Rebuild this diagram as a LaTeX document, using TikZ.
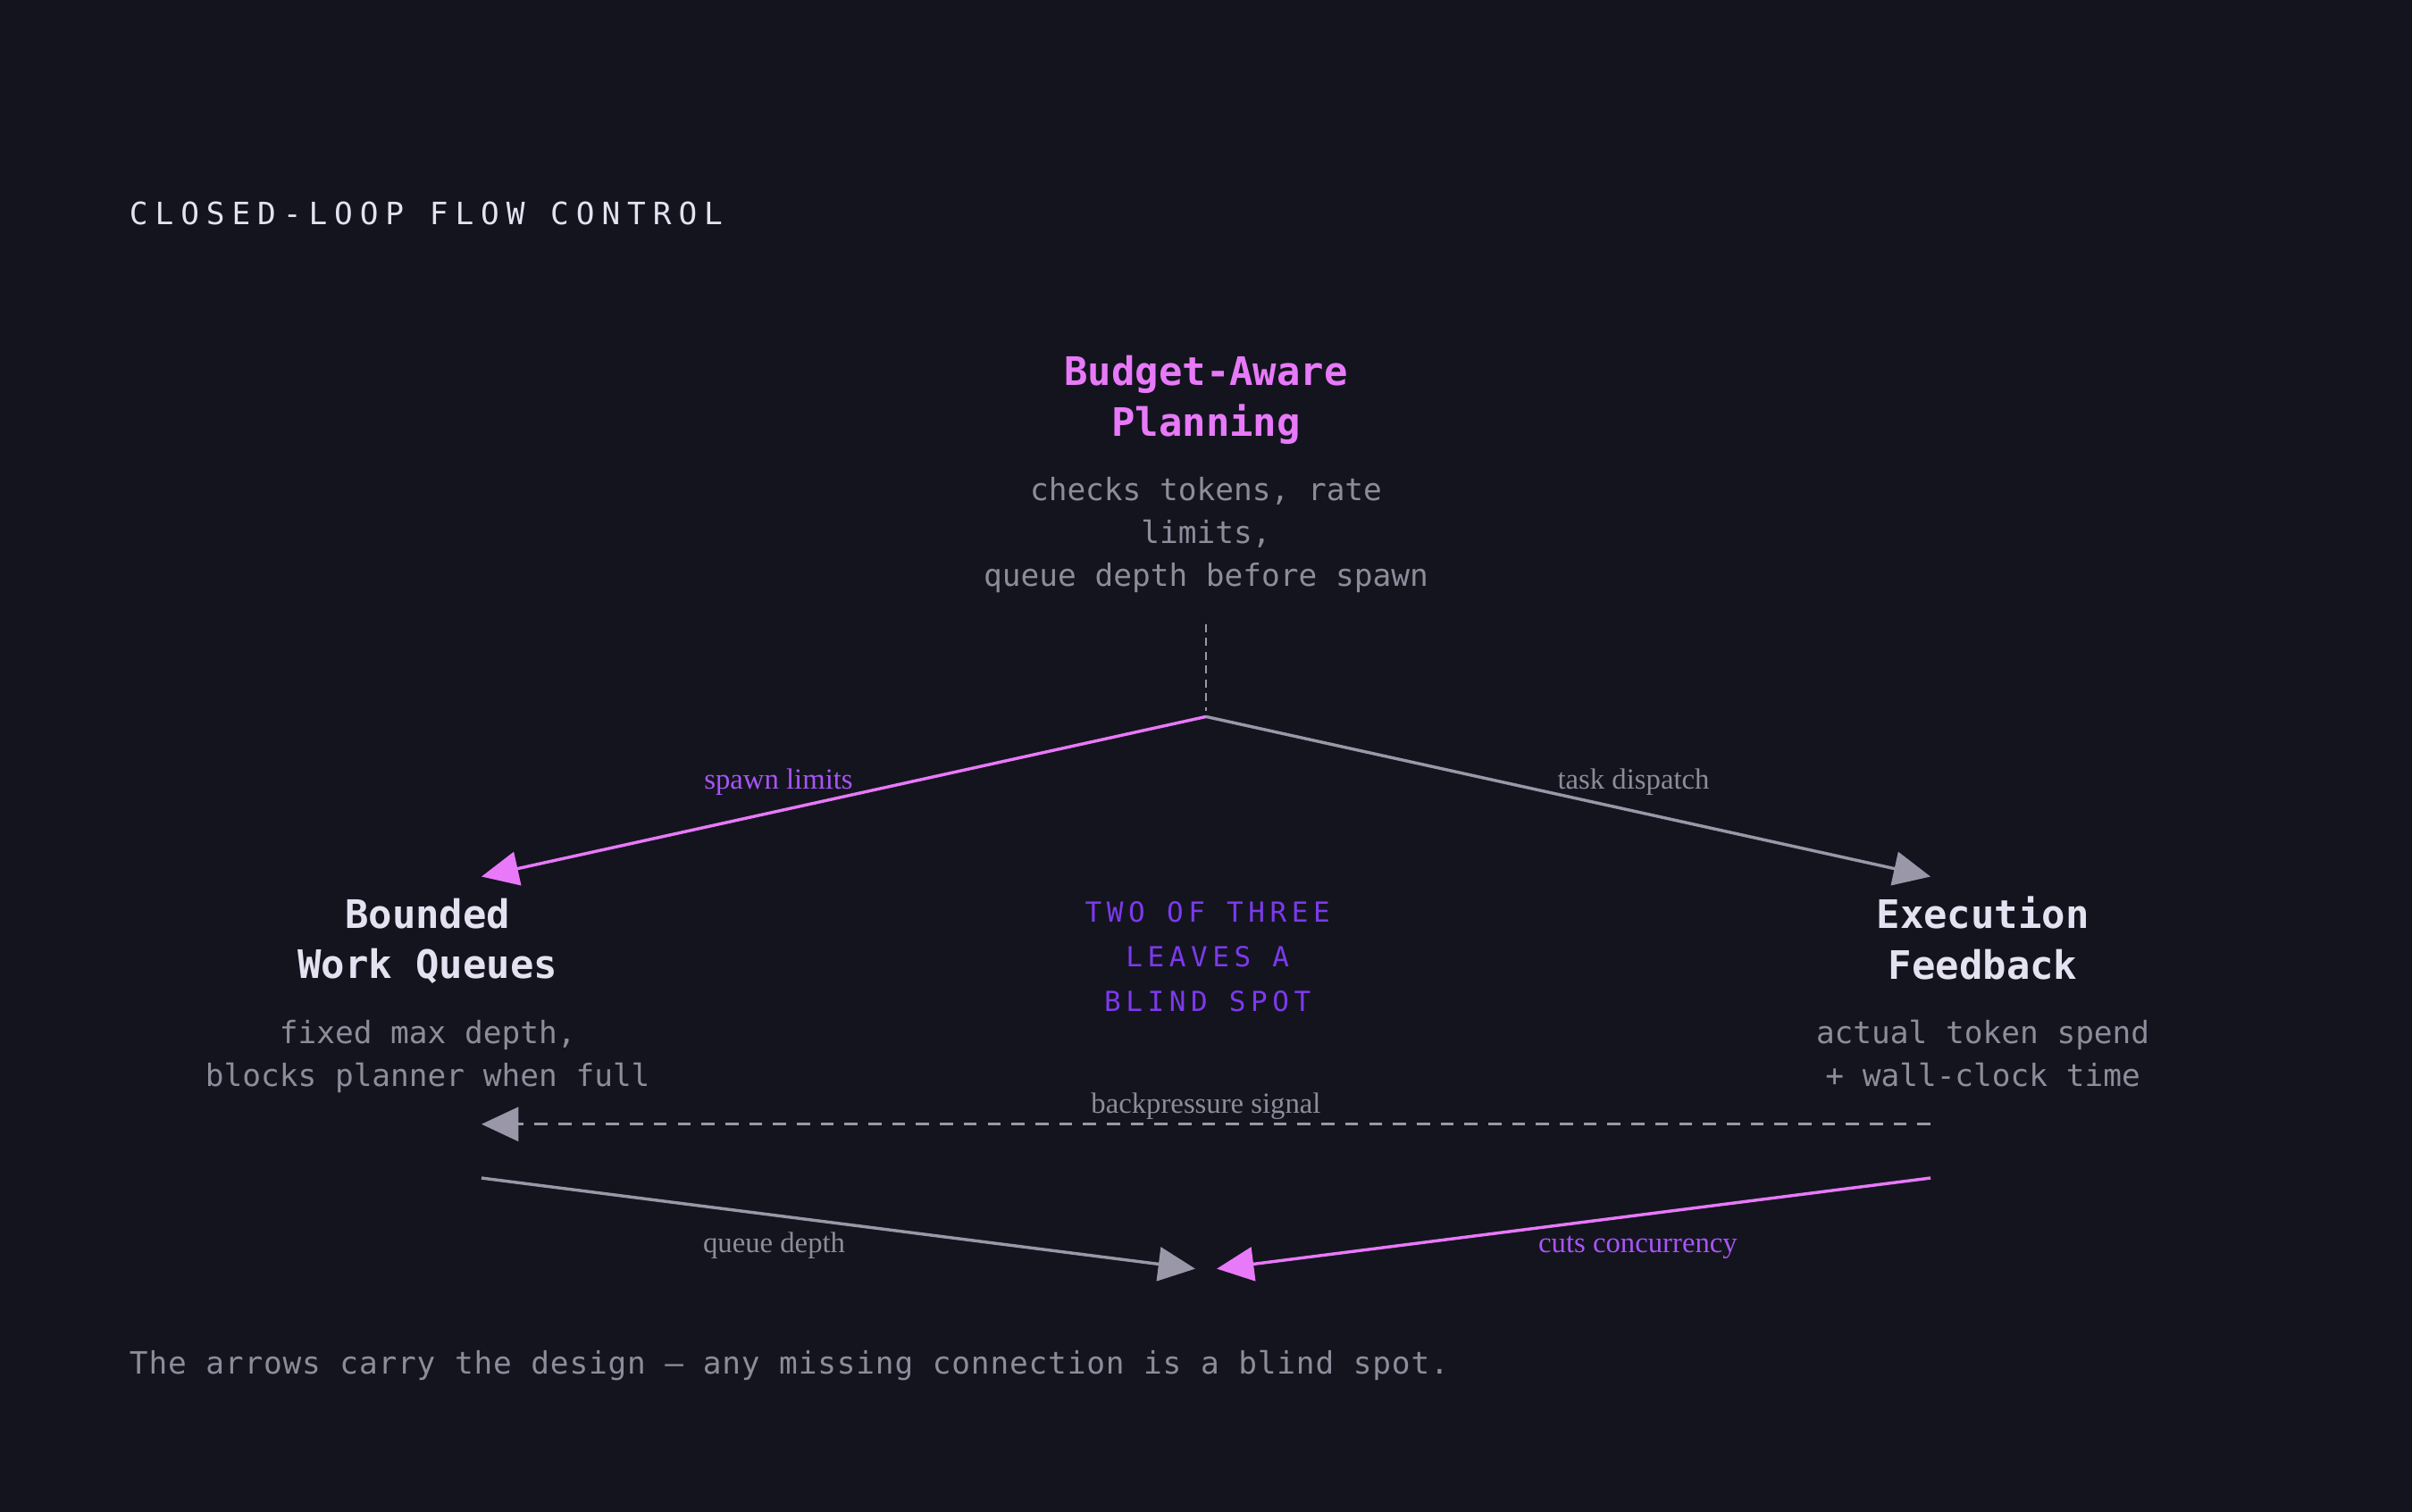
\documentclass[tikz,border=0pt]{standalone}
\usepackage{fontspec}
\setmainfont{Liberation Serif}
\setmonofont{DejaVu Sans Mono}
\newfontfamily\spacedmono[LetterSpace=23]{DejaVu Sans Mono}
\newfontfamily\blindmono[LetterSpace=18]{DejaVu Sans Mono}
\newfontfamily\footmono[LetterSpace=2.4]{DejaVu Sans Mono}
\usetikzlibrary{arrows.meta, positioning}

\definecolor{bgdark}{HTML}{14141F}
\definecolor{inkwhite}{HTML}{E4E2F0}
\definecolor{inkgray}{HTML}{8E8C9A}
\definecolor{linegray}{HTML}{9A98A8}
\definecolor{pinkline}{HTML}{E879F9}
\definecolor{violetlabel}{HTML}{A855F7}
\definecolor{deepviolet}{HTML}{7C3AED}

\begin{document}
\begin{tikzpicture}[x=1pt, y=-1pt,
        heading/.style={inner sep=0pt, align=center, font=\ttfamily\bfseries\fontsize{25.5}{33}\selectfont},
        note/.style={inner sep=0pt, align=center, text=inkgray, font=\ttfamily\fontsize{20}{28}\selectfont},
        edgelabel/.style={inner sep=0pt, anchor=base, font=\fontsize{19}{22}\selectfont},
        arrow/.style={-{Triangle[length=24pt, width=22pt]}, line width=2pt}
    ]
        % Backdrop
        \fill[bgdark] (0,0) rectangle (1568,983);
        \useasboundingbox (0,0) rectangle (1568,983);

        % Heading and footer
        \node[anchor=west, inner sep=0pt, text=inkwhite, font=\spacedmono\fontsize{20}{24}\selectfont] (title) at (84,139) {CLOSED-LOOP FLOW CONTROL};
        \node[anchor=west, inner sep=0pt, text=inkgray, font=\footmono\fontsize{20}{24}\selectfont] (footer) at (84,888) {The arrows carry the design — any missing connection is a blind spot.};

        % Planner
        \node[heading, text=pinkline] (plan_head) at (784,260) {Budget-Aware\\Planning};
        \node[note] (plan_note) at (784,348) {checks tokens, rate\\limits,\\queue depth before spawn};

        % Queues
        \node[heading, text=inkwhite] (queue_head) at (278,612) {Bounded\\Work Queues};
        \node[note] (queue_note) at (278,687) {fixed max depth,\\blocks planner when full};

        % Feedback
        \node[heading, text=inkwhite] (exec_head) at (1289,610) {Execution\\Feedback};
        \node[note] (exec_note) at (1289,685) {actual token spend\\+ wall-clock time};

        % Centre remark
        \node[inner sep=0pt, align=center, text=deepviolet, font=\blindmono\fontsize{18}{29}\selectfont] (blind_note) at (785,622) {TWO OF THREE\\LEAVES A\\BLIND SPOT};

        % Connector ends
        \coordinate (hub) at (784,466);
        \coordinate (queue_in) at (313,570);
        \coordinate (exec_in) at (1255,570);
        \coordinate (exec_back) at (1255,731);
        \coordinate (queue_back) at (313,731);
        \coordinate (queue_out) at (313,766);
        \coordinate (exec_out) at (1255,766);
        \coordinate (sink_left) at (777,825);
        \coordinate (sink_right) at (791,825);

        % Arrows
        \draw[linegray, line width=1.5pt, dash pattern=on 5pt off 4pt, shorten <=20pt, shorten >=4pt] (plan_note.south) -- (hub);
        \draw[arrow, pinkline] (hub) -- (queue_in) node[edgelabel, text=violetlabel, pos=0.59, yshift=14pt] {spawn limits};
        \draw[arrow, linegray] (hub) -- (exec_in) node[edgelabel, text=inkgray, pos=0.59, yshift=14pt] {task dispatch};
        \draw[arrow, linegray, dash pattern=on 8.5pt off 7pt] (exec_back) -- (queue_back) node[edgelabel, text=inkgray, midway, yshift=7pt] {backpressure signal};
        \draw[arrow, linegray] (queue_out) -- (sink_left) node[edgelabel, text=inkgray, pos=0.41, yshift=-24pt] {queue depth};
        \draw[arrow, pinkline] (exec_out) -- (sink_right) node[edgelabel, text=violetlabel, pos=0.41, yshift=-24pt] {cuts concurrency};
    \end{tikzpicture}
\end{document}
